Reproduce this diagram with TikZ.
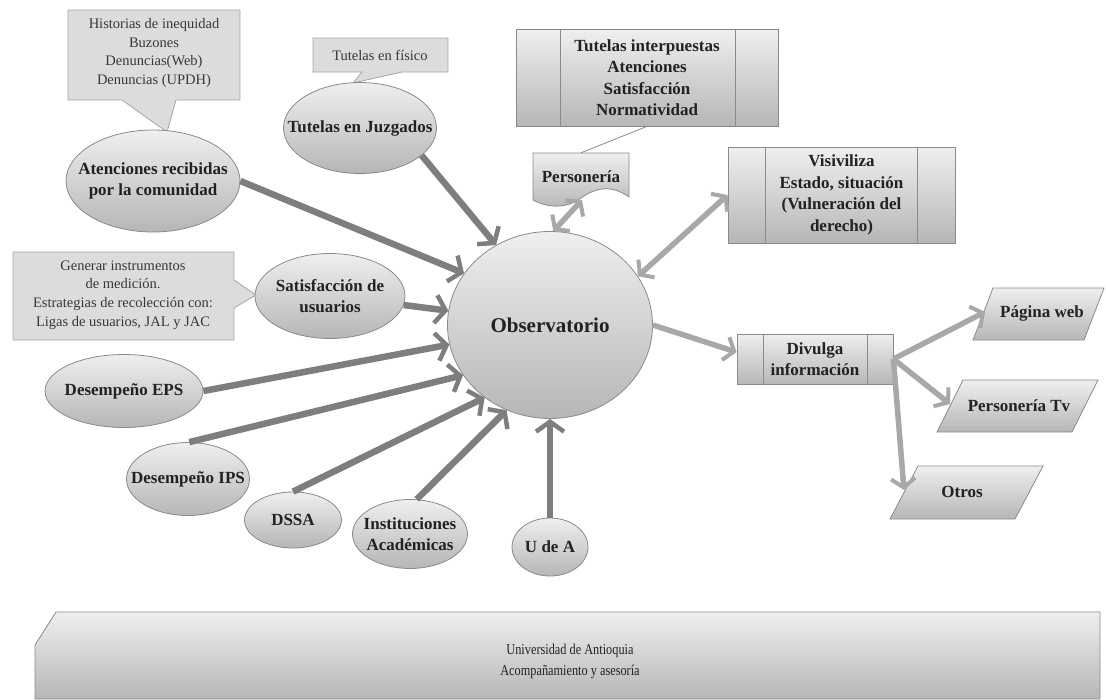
\documentclass[tikz,border=0pt]{standalone}
\usepackage{fontspec}
\setmainfont{Liberation Serif}
\usetikzlibrary{shapes.geometric,arrows.meta,calc}
\definecolor{txt}{HTML}{222222}
\definecolor{ctxt}{HTML}{383838}
\definecolor{bord}{HTML}{8A8A8A}
\definecolor{arrL}{HTML}{7E7E7E}
\definecolor{arrR}{HTML}{A8A8A8}
\definecolor{callfill}{HTML}{DCDCDC}
\definecolor{callbord}{HTML}{A6A6A6}
\definecolor{gtop}{HTML}{EFEFEF}
\definecolor{gbot}{HTML}{B6B6B6}
\begin{document}
\begin{tikzpicture}[x=1pt,y=-1pt,
  lab/.style={text=txt,align=center,font=\fontsize{17}{21}\selectfont\bfseries},
  ell/.style={ellipse,draw=bord,line width=0.8pt,top color=gtop,bottom color=gbot,inner sep=0pt},
  sidebox/.style 2 args={rectangle,draw=bord,line width=0.8pt,top color=gtop,bottom color=gbot,
    inner sep=0pt,text=txt,align=center,font=\fontsize{17}{21.5}\selectfont\bfseries,
    path picture={\draw[bord,line width=0.8pt] ([xshift=#1]path picture bounding box.north west) -- ([xshift=#1]path picture bounding box.south west);
      \draw[bord,line width=0.8pt] ([xshift=-#2]path picture bounding box.north east) -- ([xshift=-#2]path picture bounding box.south east);}},
  shapefill/.style={draw=bord,line width=0.8pt,top color=gtop,bottom color=gbot},
  callshape/.style={draw=callbord,line width=0.8pt,fill=callfill},
  callt/.style={text=ctxt,align=center,font=\fontsize{14.5}{18.8}\selectfont},
  arrowL/.style={draw=arrL,line width=6.5pt,-{Straight Barb[line width=4.5pt,length=10pt,width=28pt]}},
  arrowR/.style={draw=arrR,line width=5.5pt,-{Straight Barb[line width=4pt,length=9pt,width=24pt]}},
  arrowRR/.style={draw=arrR,line width=5.5pt,{Straight Barb[line width=4pt,length=9pt,width=24pt]}-{Straight Barb[line width=4pt,length=9pt,width=24pt]}},
  thinline/.style={draw=bord,line width=0.8pt}
]
\useasboundingbox (0,0) rectangle (1106,699);

% callouts
\path[callshape] (68,10) -- (240,10) -- (240,100) -- (176,100) -- (167,132) -- (122,100) -- (68,100) -- cycle;
\node[callt] (c1) at (154,53) {Historias de inequidad\\Buzones\\Denuncias(Web)\\Denuncias (UPDH)};
\path[callshape] (313,38) -- (448,38) -- (448,72) -- (402,72) -- (353,83) -- (362,72) -- (313,72) -- cycle;
\node[callt] (c2) at (380,55) {Tutelas en físico};
\path[callshape] (13,252) -- (234,252) -- (234,280) -- (256,295) -- (234,308) -- (234,340) -- (13,340) -- cycle;
\node[callt] (c3) at (123,295) {Generar instrumentos\\de medición.\\Estrategias de recolección con:\\Ligas de usuarios, JAL y JAC};

% ellipses
\node[ell,minimum width=174,minimum height=102,label={[lab]center:{Atenciones recibidas\\por la comunidad}}] (aten) at (153,181) {};
\node[ell,minimum width=153,minimum height=91,label={[lab]center:Tutelas en Juzgados}] (tj) at (360,128) {};
\node[ell,minimum width=150,minimum height=85,label={[lab]center:{Satisfacción de\\usuarios}}] (sat) at (330,296) {};
\node[ell,minimum width=158,minimum height=73,label={[lab]center:Desempeño EPS}] (eps) at (124,391) {};
\node[ell,minimum width=123,minimum height=73,label={[lab]center:Desempeño IPS}] (ips) at (188,479) {};
\node[ell,minimum width=97,minimum height=56,label={[lab]center:DSSA}] (dssa) at (293,520) {};
\node[ell,minimum width=115,minimum height=69,label={[lab]center:{Instituciones\\Académicas}}] (inst) at (410,534) {};
\node[ell,minimum width=76,minimum height=58,label={[lab]center:U de A}] (uda) at (550,547) {};
\node[ell,minimum width=205,minimum height=187,label={[lab,font=\fontsize{21}{25}\selectfont\bfseries]center:Observatorio}] (obs) at (550,325) {};

% boxes
\node[sidebox={44pt}{43pt},minimum width=262,minimum height=97] (topb) at (647,77.5) {Tutelas interpuestas\\Atenciones\\Satisfacción\\Normatividad};
\node[sidebox={37pt}{38pt},minimum width=227,minimum height=96] (vis) at (841.5,195) {Visiviliza\\Estado, situación\\(Vulneración del\\derecho)};
\node[sidebox={26pt}{26pt},minimum width=156,minimum height=50] (div) at (815,359) {Divulga\\información};

% Personeria document shape
\path[shapefill] (533,153) -- (629,153) -- (629,197) .. controls (611,184) and (595,188) .. (581,198) .. controls (566,209) and (548,208) .. (533,200) -- cycle;
\node[lab,minimum width=96,minimum height=48,inner sep=0pt] (pers) at (581,177) {Personería};
\coordinate (persb) at (582,200);
\draw[thinline] (topb.south) -- (pers.north);

% parallelograms
\path[shapefill] (993,288) -- (1104,288) -- (1084,340) -- (973,340) -- cycle;
\node[lab] (pw) at (1042,313) {Página web};
\coordinate (pwin) at (985,312);
\path[shapefill] (963,380) -- (1098,380) -- (1072,432) -- (937,432) -- cycle;
\node[lab] (ptv) at (1019,406) {Personería Tv};
\coordinate (ptvin) at (950,404);
\path[shapefill] (918,466) -- (1043,466) -- (1015,519) -- (890,519) -- cycle;
\node[lab] (otr) at (962,492) {Otros};
\coordinate (otrin) at (904,490);

% bottom box
\path[draw=bord,line width=0.8pt,top color=gtop,bottom color=gbot] (35,645) -- (56,612) -- (1100,612) -- (1100,699) -- (35,699) -- cycle;
\node[text=txt,inner sep=0pt] (ua) at (570,661) {\scalebox{0.82}[1]{\fontsize{15}{21}\selectfont\begin{tabular}{@{}c@{}}Universidad de Antioquia\\Acompañamiento y asesoría\end{tabular}}};

% arrows into Observatorio
\draw[arrowL] (tj.336) -- (obs.124.5);
\draw[arrowL] (aten.0) -- (obs.149.5);
\draw[arrowL] (sat.353) -- (obs.172);
\draw[arrowL] (eps.0) -- (obs.191.6);
\draw[arrowL] (ips.88) -- (obs.210.5);
\draw[arrowL] (dssa.90) -- (obs.228);
\draw[arrowL] (inst.79) -- (obs.243);
\draw[arrowL] (uda.90) -- (obs.270);

% right side
\draw[arrowRR] (persb) -- (obs.88);
\draw[arrowRR] (obs.29.6) -- (vis.west);
\draw[arrowR] (obs.0) -- (div.175.6);
\draw[arrowR] (div.east) -- (pwin);
\draw[arrowR] (div.east) -- (ptvin);
\draw[arrowR] (div.east) -- (otrin);
\end{tikzpicture}
\end{document}
